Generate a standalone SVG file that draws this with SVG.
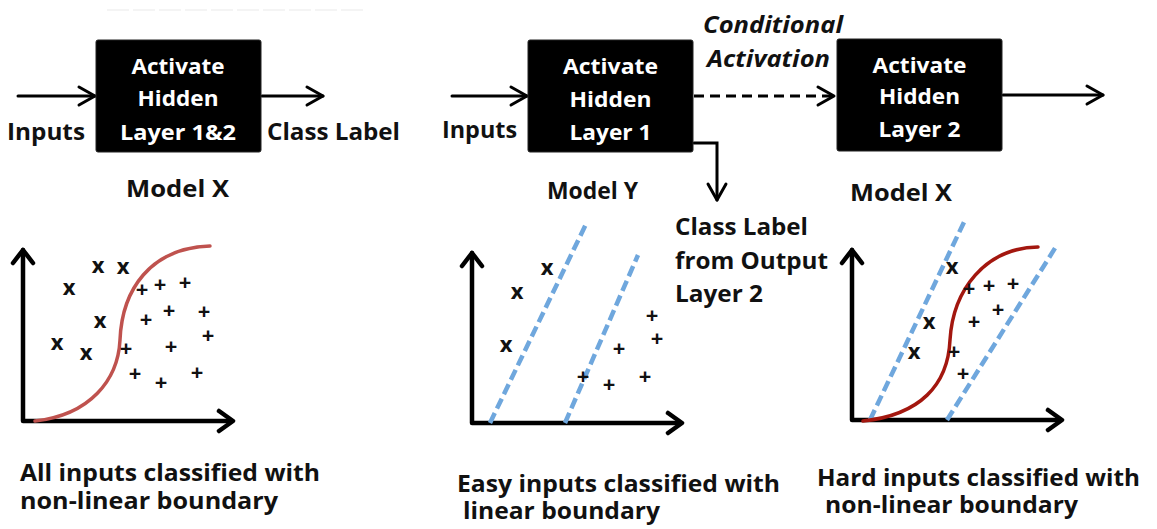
<svg xmlns="http://www.w3.org/2000/svg" width="1157" height="529" viewBox="0 0 1157 529">
<defs>
<style>
.t{font-family:"Open Sans",Lato,"Liberation Sans",sans-serif;font-weight:bold;fill:#111;}
.w{font-family:"Open Sans",Lato,"Liberation Sans",sans-serif;font-weight:bold;fill:#fff;font-size:21px;text-anchor:middle;}
.lbl{font-size:24px;}
.it{font-style:italic;}
.box{fill:#000;stroke:#222;stroke-width:1;}
.ln{fill:none;stroke:#000;stroke-width:3;stroke-linecap:round;}
.dash{fill:none;stroke:#000;stroke-width:3;stroke-dasharray:10 6;}
.ax{fill:none;stroke:#000;stroke-width:4.5;stroke-linecap:round;stroke-linejoin:round;}
.blue{fill:none;stroke:#6fa7dd;stroke-width:4.5;stroke-dasharray:11 5;}
.red1{fill:none;stroke:#bf524e;stroke-width:3.5;stroke-linecap:round;}
.red2{fill:none;stroke:#a3170f;stroke-width:3.5;stroke-linecap:round;}
.m{font-family:"Open Sans",Lato,"Liberation Sans",sans-serif;font-weight:bold;font-size:22px;fill:#111;text-anchor:middle;}
</style>
<marker id="ah" markerUnits="userSpaceOnUse" markerWidth="24" markerHeight="24" refX="20" refY="12" orient="auto" viewBox="0 0 24 24">
<path d="M4,3 L20,12 L4,21" fill="none" stroke="#000" stroke-width="3" stroke-linecap="round" stroke-linejoin="round"/>
</marker>
</defs>
<rect width="1157" height="529" fill="#fff"/>
<line x1="107" y1="10" x2="363" y2="10" stroke="#f4f4f4" stroke-width="2" stroke-dasharray="22 4"/>

<g id="connectors">
<line class="ln" x1="18" y1="96" x2="95" y2="96" marker-end="url(#ah)"/>
<line class="ln" x1="262" y1="96" x2="323" y2="96" marker-end="url(#ah)"/>
<line class="ln" x1="452" y1="96" x2="527" y2="96" marker-end="url(#ah)"/>
<line class="dash" x1="694" y1="96" x2="834" y2="96" marker-end="url(#ah)"/>
<path class="ln" d="M694,143 H717 V200" marker-end="url(#ah)"/>
<line class="ln" x1="1003" y1="95" x2="1103" y2="95" marker-end="url(#ah)"/>
</g>

<g id="model-x-left">
<rect class="box" x="96" y="40" width="165" height="112" rx="2"/>
<text class="w" x="178" y="74" textLength="93" lengthAdjust="spacingAndGlyphs">Activate</text>
<text class="w" x="178" y="106" textLength="81" lengthAdjust="spacingAndGlyphs">Hidden</text>
<text class="w" x="178" y="140" textLength="116" lengthAdjust="spacingAndGlyphs">Layer 1&amp;2</text>
</g>
<g id="label-inputs-left"><text class="t lbl" x="7" y="140" textLength="78" lengthAdjust="spacingAndGlyphs">Inputs</text></g>
<g id="label-class-left"><text class="t lbl" x="267" y="140" textLength="133" lengthAdjust="spacingAndGlyphs">Class Label</text></g>
<g id="label-modelx-left"><text class="t lbl" x="126" y="197" textLength="103" lengthAdjust="spacingAndGlyphs">Model X</text></g>

<g id="model-y">
<rect class="box" x="528" y="40" width="165" height="112" rx="2"/>
<text class="w" x="610.5" y="74" textLength="95" lengthAdjust="spacingAndGlyphs">Activate</text>
<text class="w" x="610.5" y="107" textLength="82" lengthAdjust="spacingAndGlyphs">Hidden</text>
<text class="w" x="610.5" y="140" textLength="82" lengthAdjust="spacingAndGlyphs">Layer 1</text>
</g>
<g id="label-inputs-mid"><text class="t lbl" x="442" y="138" textLength="75" lengthAdjust="spacingAndGlyphs">Inputs</text></g>
<g id="label-modely"><text class="t lbl" x="547" y="199" textLength="91" lengthAdjust="spacingAndGlyphs">Model Y</text></g>
<g id="label-conditional">
<text class="t lbl it" x="703" y="33" textLength="140" lengthAdjust="spacingAndGlyphs">Conditional</text>
<text class="t lbl it" x="707" y="67" textLength="123" lengthAdjust="spacingAndGlyphs">Activation</text>
</g>
<g id="label-class-mid">
<text class="t lbl" x="675" y="235" textLength="133" lengthAdjust="spacingAndGlyphs">Class Label</text>
<text class="t lbl" x="675" y="269" textLength="153" lengthAdjust="spacingAndGlyphs">from Output</text>
<text class="t lbl" x="675" y="302" textLength="88" lengthAdjust="spacingAndGlyphs">Layer 2</text>
</g>

<g id="model-x-right">
<rect class="box" x="837" y="39" width="165" height="112" rx="2"/>
<text class="w" x="919.5" y="73" textLength="94" lengthAdjust="spacingAndGlyphs">Activate</text>
<text class="w" x="919.5" y="104" textLength="81" lengthAdjust="spacingAndGlyphs">Hidden</text>
<text class="w" x="919.5" y="137" textLength="82" lengthAdjust="spacingAndGlyphs">Layer 2</text>
</g>
<g id="label-modelx-right"><text class="t lbl" x="850" y="201" textLength="102" lengthAdjust="spacingAndGlyphs">Model X</text></g>

<g id="plot-left">
<path class="ax" d="M23,250 V421 H231" />
<path class="ax" d="M13,263 L23,250 L33,263 M219,411 L233,421 L219,431"/>
<path class="red1" d="M35,421 C90,415 118,380 120,340 C122,290 150,248 210,246"/>
<text class="m" x="98" y="273">x</text>
<text class="m" x="123" y="274">x</text>
<text class="m" x="69" y="295">x</text>
<text class="m" x="100" y="328">x</text>
<text class="m" x="57" y="350">x</text>
<text class="m" x="86" y="360">x</text>
<text class="m" x="142" y="297">+</text>
<text class="m" x="160" y="292">+</text>
<text class="m" x="185" y="290">+</text>
<text class="m" x="146" y="327">+</text>
<text class="m" x="169" y="318">+</text>
<text class="m" x="204" y="319">+</text>
<text class="m" x="208" y="343">+</text>
<text class="m" x="126" y="356">+</text>
<text class="m" x="171" y="354">+</text>
<text class="m" x="135" y="381">+</text>
<text class="m" x="161" y="390">+</text>
<text class="m" x="197" y="380">+</text>
<text class="t" x="20" y="481" font-size="24" textLength="300" lengthAdjust="spacingAndGlyphs">All inputs classified with</text>
<text class="t" x="20" y="509" font-size="24" textLength="258" lengthAdjust="spacingAndGlyphs">non-linear boundary</text>
</g>

<g id="plot-mid">
<path class="ax" d="M472,253 V423 H680"/>
<path class="ax" d="M462,266 L472,253 L482,266 M668,413 L682,423 L668,433"/>
<line class="blue" x1="490" y1="423" x2="587" y2="222"/>
<line class="blue" x1="565" y1="423" x2="638" y2="255"/>
<text class="m" x="547" y="275">x</text>
<text class="m" x="517" y="299">x</text>
<text class="m" x="506" y="352">x</text>
<text class="m" x="652" y="323">+</text>
<text class="m" x="657" y="346">+</text>
<text class="m" x="619" y="356">+</text>
<text class="m" x="583" y="384">+</text>
<text class="m" x="609" y="392">+</text>
<text class="m" x="645" y="384">+</text>
<text class="t" x="457" y="492" font-size="24" textLength="323" lengthAdjust="spacingAndGlyphs">Easy inputs classified with</text>
<text class="t" x="463" y="519" font-size="24" textLength="197" lengthAdjust="spacingAndGlyphs">linear boundary</text>
</g>

<g id="plot-right">
<path class="ax" d="M852,250 V420 H1060"/>
<path class="ax" d="M842,263 L852,250 L862,263 M1048,410 L1062,420 L1048,430"/>
<line class="blue" x1="870" y1="420" x2="965" y2="220"/>
<line class="blue" x1="947" y1="420" x2="1057" y2="245"/>
<path class="red2" d="M863,421 C920,415 948,385 950,340 C953,290 985,248 1038,247"/>
<text class="m" x="952" y="274">x</text>
<text class="m" x="929" y="329">x</text>
<text class="m" x="914" y="359">x</text>
<text class="m" x="969" y="296">+</text>
<text class="m" x="989" y="293">+</text>
<text class="m" x="1013" y="291">+</text>
<text class="m" x="998" y="317">+</text>
<text class="m" x="974" y="329">+</text>
<text class="m" x="954" y="359">+</text>
<text class="m" x="963" y="381">+</text>
<text class="t" x="817" y="486" font-size="24" textLength="323" lengthAdjust="spacingAndGlyphs">Hard inputs classified with</text>
<text class="t" x="825" y="513" font-size="24" textLength="253" lengthAdjust="spacingAndGlyphs">non-linear boundary</text>
</g>
</svg>
